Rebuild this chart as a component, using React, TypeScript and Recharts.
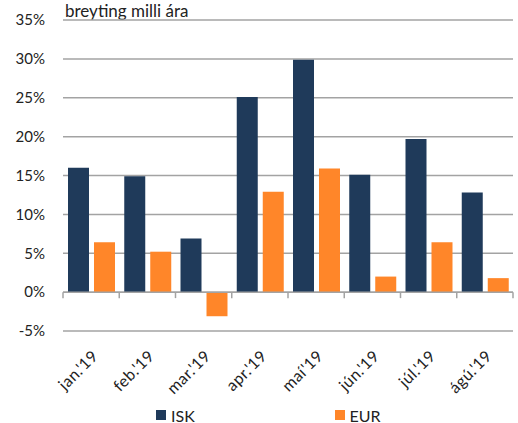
import React from "react";
import { BarChart, Bar, XAxis, YAxis, CartesianGrid, Legend, ReferenceLine } from "recharts";

const months = ["jan.'19", "feb.'19", "mar.'19", "apr.'19", "maí'19", "jún.'19", "júl.'19", "ágú.'19"];
const isk = [16.0, 14.9, 6.9, 25.1, 29.9, 15.1, 19.7, 12.8];
const eur = [6.4, 5.2, -3.1, 12.9, 15.9, 2.0, 6.4, 1.8];
const yTicks = [-5, 0, 5, 10, 15, 20, 25, 30, 35];
const seriesOrder = ["ISK", "EUR"];

const data = months.map((m, i) => ({ month: m, ISK: isk[i], EUR: eur[i] }));

const FONT = "Lato, 'Open Sans', sans-serif";
const GRID = "#a3a3a3";

// zero line with little tick marks between the categories
const ZeroLine = (props: any) => {
    const { x1, x2, y1 } = props;
    const step = (x2 - x1) / months.length;
    const marks = [];
    for (let i = 0; i <= months.length; i++) {
        const x = x1 + i * step;
        marks.push(<line key={i} x1={x} x2={x} y1={y1} y2={y1 + 6} stroke={GRID} strokeWidth={1.5} />);
    }
    return (
        <g>
            <line x1={x1} x2={x2} y1={y1} y2={y1} stroke={GRID} strokeWidth={1.5} />
            {marks}
        </g>
    );
};

const LegendContent = (props: any) => {
    const items = [...(props.payload || [])].sort(
        (a: any, b: any) => seriesOrder.indexOf(a.value) - seriesOrder.indexOf(b.value)
    );
    return (
        <div style={{ position: "relative", top: 5, display: "flex", paddingLeft: 156, height: 26, alignItems: "center", fontFamily: FONT, fontSize: 16, color: "#222" }}>
            {items.map((it: any) => (
                <div key={it.value} style={{ display: "flex", alignItems: "center", width: 180 }}>
                    <span style={{ display: "inline-block", width: 10, height: 10, background: it.color, marginRight: 5 }} />
                    <span>{it.value}</span>
                </div>
            ))}
        </div>
    );
};

export default function App() {
    return (
        <div style={{ position: "absolute", left: 0, top: 0, width: 518, height: 423, background: "#fff" }}>
            <div style={{ position: "absolute", left: 65, top: 0, fontFamily: FONT, fontSize: 17, color: "#222" }}>
                breyting milli ára
            </div>
            <BarChart
                width={518}
                height={423}
                data={data}
                margin={{ top: 20, right: 5, left: 0, bottom: 0 }}
                barSize={21}
                barGap={5}
            >
                <CartesianGrid vertical={false} stroke={GRID} strokeWidth={1.5} />
                <XAxis
                    dataKey="month"
                    interval={0}
                    axisLine={false}
                    tickLine={false}
                    height={66}
                    tickSize={0}
                    tickMargin={18}
                    angle={-45}
                    textAnchor="end"
                    tick={{ fontFamily: FONT, fontSize: 16, fill: "#222", letterSpacing: 0.5 }}
                />
                <YAxis
                    domain={[-5, 35]}
                    ticks={yTicks}
                    width={63}
                    axisLine={false}
                    tickLine={false}
                    tickSize={0}
                    tickMargin={18}
                    tickFormatter={(v) => `${v}%`}
                    tick={{ fontFamily: FONT, fontSize: 15, fill: "#222" }}
                />
                <ReferenceLine y={0} shape={<ZeroLine />} />
                <Bar dataKey="ISK" fill="#1f3a5a" isAnimationActive={false} />
                <Bar dataKey="EUR" fill="#ff8629" isAnimationActive={false} />
                <Legend verticalAlign="bottom" content={<LegendContent />} />
            </BarChart>
        </div>
    );
}
